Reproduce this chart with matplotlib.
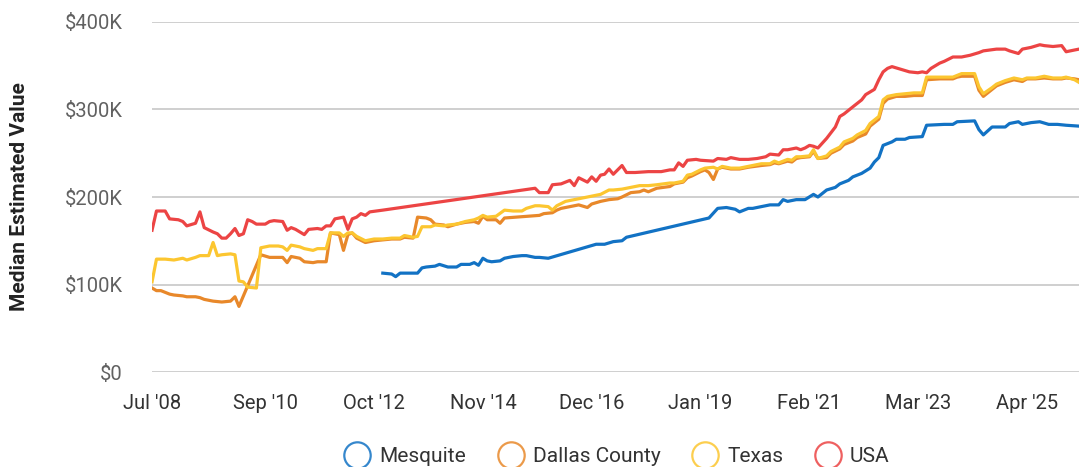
import pandas as pd
import matplotlib
matplotlib.use('Agg')
import matplotlib.pyplot as plt
from matplotlib.lines import Line2D
from matplotlib.ticker import FuncFormatter

plt.rcParams['font.family'] = ['Roboto', 'DejaVu Sans']

# months counted from Jul 2008, values in $K
usa_months = [0, 1, 3, 4, 6, 7, 8, 10, 11, 12, 14, 15, 16, 17, 18, 19, 20, 21, 22, 23,
              24, 26, 27, 28, 30, 31, 32, 33, 35, 36, 38, 39, 40, 41, 42, 43, 44, 45, 46, 47,
              48, 49, 50, 53, 88, 89, 91, 92, 94, 96, 97, 98, 100, 101, 102, 103, 104, 105, 106, 108,
              109, 111, 114, 117, 119, 120, 121, 122, 123, 125, 126, 129, 130, 132, 133, 135, 137, 139, 141, 142,
              144, 145, 146, 148, 149, 150, 151, 152, 153, 155, 157, 158, 159, 161, 163, 164, 166, 167, 168, 169,
              170, 172, 174, 176, 177, 178, 179, 181, 182, 184, 186, 188, 190, 191, 194, 196, 197, 199, 200, 202,
              204, 205, 207, 209, 210, 212, 213]
usa_values = [162, 184, 184, 175, 174, 172, 167, 170, 183, 165, 160, 158, 153, 153, 158, 164, 156, 158, 174, 172,
              169, 169, 172, 173, 172, 162, 165, 163, 157, 163, 164, 163, 167, 167, 175, 176, 177, 163, 175, 177,
              181, 179, 183, 185, 210, 205, 205, 214, 215, 219, 213, 222, 217, 223, 218, 225, 226, 232, 226, 236,
              228, 228, 229, 229, 231, 231, 239, 235, 242, 243, 242, 241, 244, 243, 245, 243, 243, 244, 246, 249,
              248, 254, 254, 256, 254, 256, 259, 258, 256, 267, 280, 292, 295, 303, 311, 317, 323, 334, 343, 347,
              349, 346, 343, 342, 343, 342, 347, 353, 355, 360, 360, 362, 365, 367, 369, 369, 367, 364, 369, 371,
              374, 373, 372, 373, 366, 368, 369]

texas_months = [0, 1, 3, 5, 6, 7, 8, 10, 11, 13, 14, 15, 16, 18, 19, 20, 21, 22, 24, 25,
                27, 29, 30, 31, 32, 34, 35, 37, 38, 40, 41, 43, 44, 45, 46, 47, 49, 51, 53, 55,
                57, 58, 60, 61, 62, 64, 65, 67, 68, 70, 72, 74, 75, 76, 77, 79, 81, 83, 85, 86,
                88, 89, 91, 92, 93, 95, 97, 100, 101, 103, 105, 106, 108, 110, 112, 114, 116, 119, 120, 122,
                123, 124, 126, 127, 129, 130, 131, 133, 135, 137, 140, 142, 143, 144, 146, 147, 148, 149, 151, 152,
                153, 155, 156, 158, 159, 161, 162, 164, 165, 166, 167, 168, 169, 171, 173, 175, 177, 178, 181, 184,
                185, 186, 189, 190, 191, 193, 194, 196, 198, 200, 201, 203, 205, 207, 209, 210, 212, 213]
texas_values = [103, 129, 129, 128, 129, 130, 128, 131, 133, 133, 148, 133, 134, 135, 134, 104, 103, 97, 96, 142,
                144, 144, 143, 139, 145, 143, 141, 139, 141, 141, 159, 159, 155, 159, 159, 155, 150, 152, 152, 153,
                153, 156, 154, 155, 166, 166, 168, 167, 168, 169, 172, 174, 176, 179, 177, 178, 185, 184, 184, 187,
                190, 190, 189, 185, 190, 195, 197, 200, 201, 203, 208, 208, 209, 211, 213, 213, 214, 216, 216, 218,
                225, 226, 231, 233, 234, 232, 235, 233, 233, 235, 238, 238, 241, 239, 243, 242, 246, 246, 247, 254,
                244, 247, 252, 257, 263, 267, 271, 276, 284, 288, 292, 311, 315, 317, 318, 319, 319, 337, 337, 337,
                339, 341, 341, 326, 318, 325, 329, 333, 336, 334, 336, 336, 338, 336, 336, 337, 334, 331]

dallas_months = [0, 1, 2, 4, 5, 7, 8, 10, 11, 12, 14, 16, 18, 19, 20, 25, 27, 28, 30, 31,
                 32, 34, 35, 37, 38, 40, 41, 43, 44, 45, 46, 47, 49, 51, 53, 55, 57, 58, 60, 61,
                 63, 64, 65, 67, 68, 70, 72, 74, 75, 76, 77, 79, 80, 81, 89, 90, 92, 93, 94, 96,
                 98, 100, 101, 103, 105, 107, 108, 110, 112, 113, 114, 116, 119, 120, 122, 123, 124, 126, 127, 128,
                 129, 130, 131, 133, 135, 137, 140, 142, 143, 144, 146, 147, 148, 149, 151, 152, 153, 155, 156, 158,
                 159, 161, 162, 164, 165, 166, 167, 168, 169, 171, 173, 175, 177, 178, 181, 184, 185, 186, 189, 190,
                 191, 193, 194, 196, 198, 200, 201, 203, 205, 207, 209, 210, 212, 213]
dallas_values = [96, 93, 93, 89, 88, 87, 86, 86, 85, 83, 81, 80, 81, 86, 75, 134, 131, 131, 131, 125,
                 132, 130, 126, 125, 126, 126, 159, 157, 139, 157, 159, 153, 148, 150, 151, 152, 152, 154, 153, 177,
                 176, 174, 169, 168, 166, 169, 171, 172, 170, 178, 174, 174, 170, 176, 179, 181, 182, 185, 187, 189,
                 191, 188, 192, 195, 197, 198, 200, 205, 206, 208, 206, 210, 212, 215, 217, 222, 224, 229, 231, 228,
                 220, 232, 234, 232, 232, 234, 236, 237, 239, 238, 241, 240, 244, 245, 246, 252, 244, 245, 250, 255,
                 260, 264, 268, 272, 281, 285, 289, 307, 312, 315, 315, 316, 316, 334, 335, 335, 337, 338, 338, 322,
                 315, 323, 327, 331, 334, 332, 335, 335, 336, 335, 335, 336, 335, 334]

mesquite_months = [53, 55, 56, 57, 58, 59, 61, 62, 63, 65, 66, 68, 70, 71, 73, 74, 75, 76, 77, 78,
                   80, 81, 83, 85, 86, 88, 89, 91, 102, 104, 106, 108, 109, 128, 130, 132, 134, 135, 137, 138,
                   140, 142, 144, 145, 146, 148, 150, 152, 153, 155, 157, 158, 160, 161, 163, 165, 166, 167, 168, 170,
                   171, 173, 174, 177, 178, 182, 184, 185, 189, 190, 191, 193, 196, 197, 199, 200, 202, 204, 206, 208,
                   210, 213]
mesquite_values = [113, 112, 109, 113, 113, 113, 113, 119, 120, 121, 123, 120, 120, 123, 123, 125, 122, 130, 127, 126,
                   127, 130, 132, 133, 133, 131, 131, 130, 146, 146, 149, 150, 154, 176, 187, 188, 186, 183, 187, 187,
                   189, 191, 191, 197, 195, 197, 197, 203, 200, 208, 211, 215, 219, 223, 227, 233, 240, 245, 259, 263,
                   266, 266, 268, 269, 282, 283, 283, 286, 287, 277, 271, 280, 280, 284, 286, 283, 285, 286, 283, 283,
                   282, 281]

series_names = ['Mesquite', 'Dallas County', 'Texas', 'USA']
series_colors = ['#1272c4', '#e8882a', '#fcc630', '#ec4444']
tick_labels = ["Jul '08", "Sep '10", "Oct '12", "Nov '14", "Dec '16", "Jan '19", "Feb '21", "Mar '23", "Apr '25"]
tick_months = [0, 26, 51, 76, 101, 126, 151, 176, 201]

start = pd.Timestamp('2008-07-01')


def to_dates(months):
    return [start + pd.DateOffset(months=m) for m in months]


fig = plt.figure(figsize=(10.79, 4.67), dpi=100)
ax = fig.add_axes([0.1409, 0.2034, 0.8591, 0.7495])

data = [(mesquite_months, mesquite_values), (dallas_months, dallas_values),
        (texas_months, texas_values), (usa_months, usa_values)]
for (months, values), name, color in zip(data, series_names, series_colors):
    ax.plot(to_dates(months), [v * 1000 for v in values], color=color, lw=2.3,
            solid_joinstyle='round', label=name, zorder=3)

ax.set_xlim(start, start + pd.DateOffset(months=213))
ax.set_ylim(0, 400000)
ax.set_yticks([0, 100000, 200000, 300000, 400000])
ax.yaxis.set_major_formatter(FuncFormatter(lambda v, p: '$0' if v == 0 else f'${int(v / 1000)}K'))
ax.set_xticks(to_dates(tick_months))
ax.set_xticklabels(tick_labels)

ax.grid(axis='y', color='#cccccc', lw=1.3)
ax.set_axisbelow(True)
for s in ax.spines.values():
    s.set_visible(False)
ax.tick_params(axis='y', length=0, pad=21, labelsize=14.5, labelcolor='#616161')
ax.tick_params(axis='x', length=0, pad=16, labelsize=14.5, labelcolor='#333333')

ax.set_ylabel('Median Estimated Value', fontsize=15, fontweight='bold', color='#222222', labelpad=26)

handles = [Line2D([], [], ls='none', marker='o', markersize=19, markerfacecolor='white',
                  markeredgecolor=c, markeredgewidth=1.6, alpha=0.85) for c in series_colors]
fig.legend(handles, series_names, loc='center', bbox_to_anchor=(0.572, 0.022), ncol=4, frameon=False,
           fontsize=15, labelcolor='#333333', handletextpad=0.45, columnspacing=1.55, handlelength=1.2)

fig.savefig('out.png', dpi=100)
